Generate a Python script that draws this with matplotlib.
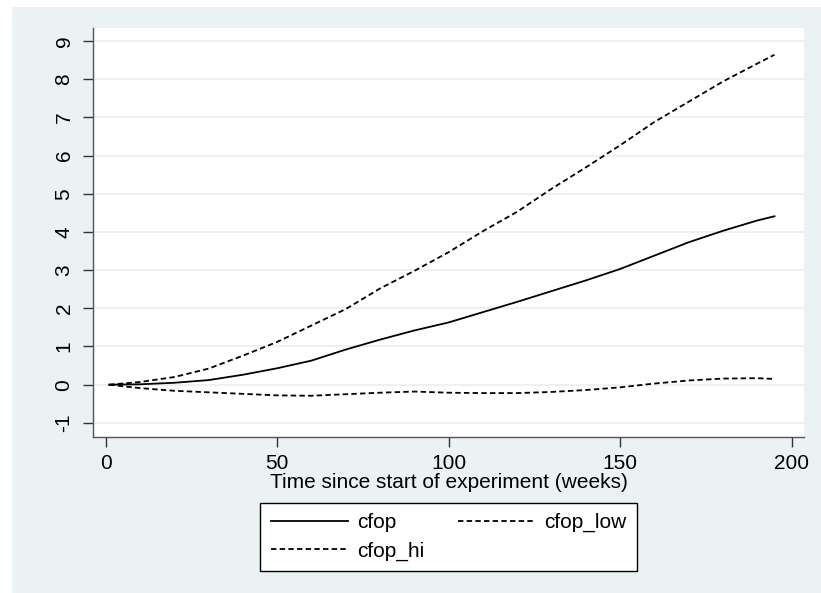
import matplotlib
matplotlib.use("Agg")
import matplotlib.pyplot as plt
from matplotlib.patches import Rectangle

plt.rcParams["font.family"] = ["Liberation Sans", "DejaVu Sans"]
plt.rcParams["axes.unicode_minus"] = False

# cumulative effect estimates by week
weeks = [1, 10, 20, 30, 40, 50, 60, 70, 80, 90, 100, 110, 120, 130, 140, 150,
         160, 170, 180, 190, 195]
cfop = [0.0, 0.01, 0.05, 0.12, 0.26, 0.43, 0.63, 0.92, 1.18, 1.42, 1.63, 1.90,
        2.17, 2.45, 2.73, 3.03, 3.38, 3.73, 4.03, 4.30, 4.41]
cfop_hi = [0.0, 0.07, 0.20, 0.42, 0.76, 1.12, 1.55, 1.98, 2.52, 2.98, 3.47, 4.02,
           4.53, 5.13, 5.69, 6.27, 6.88, 7.41, 7.94, 8.41, 8.64]
cfop_low = [0.0, -0.09, -0.16, -0.20, -0.24, -0.28, -0.29, -0.25, -0.21, -0.18,
            -0.21, -0.22, -0.22, -0.19, -0.14, -0.07, 0.03, 0.11, 0.16, 0.17, 0.15]

xticks = [0, 50, 100, 150, 200]
yticks = list(range(-1, 10))

bg = "#EAF2F3"
dash = (0, (3, 1.8))
fs = 15

fig = plt.figure(figsize=(8.21, 5.93), dpi=100)
fig.patches.append(Rectangle((12 / 821, 0), 1 - 12 / 821, 1 - 7 / 593,
                             transform=fig.transFigure, facecolor=bg,
                             edgecolor="none", zorder=-10))
ax = fig.add_axes([93 / 821, 1 - 437 / 593, 711 / 821, 409 / 593])
ax.set_facecolor("white")

l1, = ax.plot(weeks, cfop, color="black", lw=1.3, label="cfop")
l2, = ax.plot(weeks, cfop_low, color="black", lw=1.3, ls=dash, label="cfop_low")
l3, = ax.plot(weeks, cfop_hi, color="black", lw=1.3, ls=dash, label="cfop_hi")

ax.set_xlim(-3.7, 203.6)
ax.set_ylim(-1.37, 9.34)
ax.set_xticks(xticks)
ax.set_yticks(yticks)
ax.yaxis.grid(True, color=bg, lw=1.4)
ax.set_axisbelow(True)
for s in ("top", "right"):
    ax.spines[s].set_visible(False)
for s in ("left", "bottom"):
    ax.spines[s].set_color("#555555")
    ax.spines[s].set_linewidth(1.0)
ax.tick_params(axis="both", labelsize=fs, length=7, width=1.0, color="#333333")
ax.tick_params(axis="x", pad=5)
ax.tick_params(axis="y", pad=7)
for t in ax.get_yticklabels():
    t.set_rotation(90)
    t.set_va("center")

ax.set_xlabel("Time since start of experiment (weeks)", fontsize=fs, labelpad=0)

# two-column legend in a plain black frame below the axis title
leg = fig.legend([l1, l3, l2], ["cfop", "cfop_hi", "cfop_low"], ncol=2,
                 loc="center", bbox_to_anchor=(448.5 / 821, 1 - 537 / 593),
                 fontsize=fs, frameon=True, fancybox=False, framealpha=1,
                 handlelength=3.7, handletextpad=0.45, columnspacing=1.6,
                 borderpad=0.5, labelspacing=0.45)
leg.get_frame().set_edgecolor("black")
leg.get_frame().set_linewidth(1.0)
leg.get_frame().set_facecolor("white")

fig.savefig("out.png", dpi=100, facecolor="white")
